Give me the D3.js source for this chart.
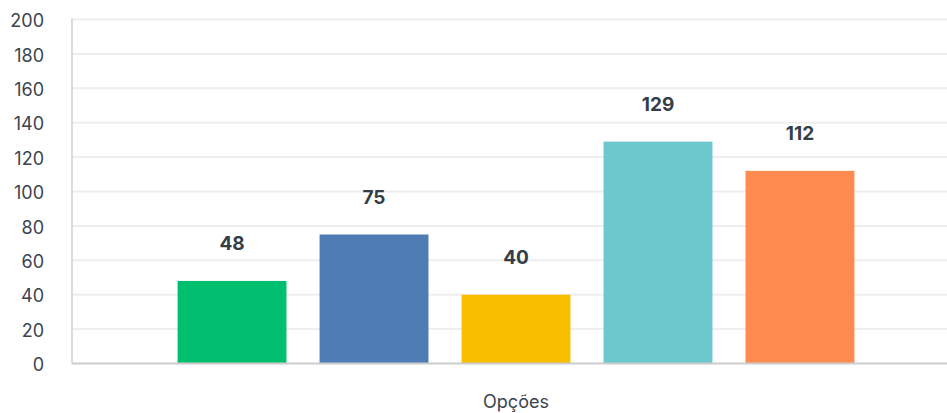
<!DOCTYPE html>
<html>
<head>
<meta charset="utf-8">
<script src="https://cdn.jsdelivr.net/npm/d3@7"></script>
<style>
  html, body { margin: 0; padding: 0; background: #fff; }
  svg { display: block; font-family: Inter, Roboto, "Noto Sans", sans-serif; }
</style>
</head>
<body>
<svg id="chart" width="947" height="413"></svg>
<script>
// Chart data
const categories = ["Opções"];
const seriesNames = ["A", "B", "C", "D", "E"];
const seriesValues = [48, 75, 40, 129, 112];
const seriesColors = ["#00BF6F", "#507CB6", "#F9BE00", "#6BC8CD", "#FF8B4F"];
const yTicks = [0, 20, 40, 60, 80, 100, 120, 140, 160, 180, 200];

const svg = d3.select("#chart");
const W = 947, H = 413;
const m = { left: 72, right: 0, top: 19.5, bottom: 49.5 };
const plotRight = W;

const y = d3.scaleLinear().domain([0, 200]).range([H - m.bottom, m.top]);

// Outer band for the category, inner band for the series
const x0 = d3.scaleBand().domain(categories).range([m.left, 960])
  .paddingInner(0).paddingOuter(0.156);
const x1 = d3.scaleBand().domain(seriesNames).range([0, x0.bandwidth()])
  .paddingInner(0.233).paddingOuter(0);

// Grid lines
svg.append("g").selectAll("line").data(yTicks.filter(d => d > 0)).join("line")
  .attr("x1", m.left).attr("x2", plotRight)
  .attr("y1", d => y(d)).attr("y2", d => y(d))
  .attr("stroke", "#eeeeee").attr("stroke-width", 2);

// Y axis labels
const yAxis = d3.axisLeft(y).tickValues(yTicks).tickSize(0).tickPadding(28);
const gy = svg.append("g").attr("transform", `translate(${m.left},1.5)`).call(yAxis);
gy.select(".domain").remove();
gy.selectAll("text").attr("font-size", 18).attr("fill", "#3b4450")
  .attr("font-family", "Inter, Roboto, sans-serif");

// Bars
const g = svg.append("g").attr("transform", `translate(${x0(categories[0])},0)`);
g.selectAll("rect").data(seriesValues).join("rect")
  .attr("x", (d, i) => x1(seriesNames[i]))
  .attr("width", x1.bandwidth())
  .attr("y", d => y(d))
  .attr("height", d => y(0) - y(d))
  .attr("fill", (d, i) => seriesColors[i]);

// Value labels
g.selectAll("text.val").data(seriesValues).join("text")
  .attr("class", "val")
  .attr("x", (d, i) => x1(seriesNames[i]) + x1.bandwidth() / 2)
  .attr("y", d => y(d) - 31)
  .attr("text-anchor", "middle")
  .attr("font-size", 19).attr("font-weight", 700)
  .attr("fill", "#333e48")
  .text(d => d);

// Axis lines
svg.append("line").attr("x1", m.left).attr("x2", m.left)
  .attr("y1", m.top - 1).attr("y2", y(0))
  .attr("stroke", "#d0d0d0").attr("stroke-width", 1.5);
const xAxis = d3.axisBottom(x0).tickSize(0).tickPadding(32);
const gx = svg.append("g").attr("transform", `translate(0,${y(0)})`).call(xAxis);
gx.select(".domain").remove();
svg.append("line").attr("x1", m.left).attr("x2", plotRight)
  .attr("y1", y(0)).attr("y2", y(0))
  .attr("stroke", "#cccccc").attr("stroke-width", 2);
gx.selectAll("text").attr("font-size", 18).attr("fill", "#3b4450")
  .attr("font-family", "Inter, Roboto, sans-serif");
</script>
</body>
</html>
